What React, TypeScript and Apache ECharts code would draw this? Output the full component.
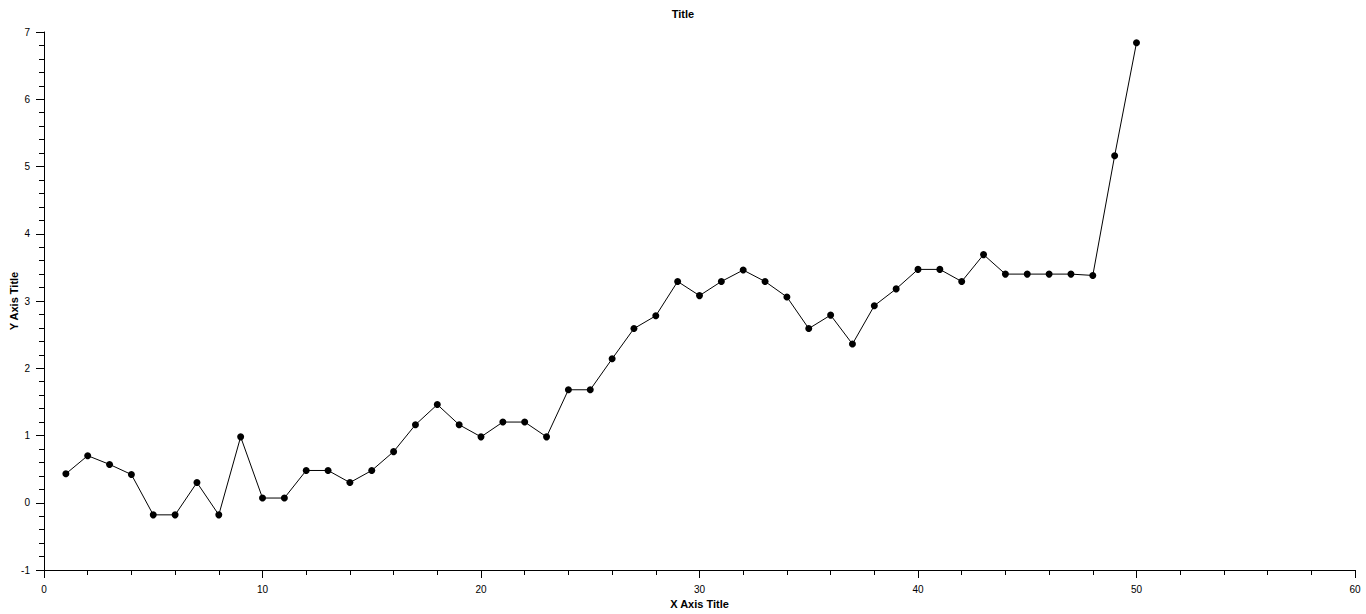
import React, { useEffect, useRef } from "react";
import * as echarts from "echarts";

const xValues = [
  1, 2, 3, 4, 5, 6, 7, 8, 9, 10, 11, 12, 13, 14, 15, 16, 17, 18, 19, 20, 21, 22, 23, 24, 25,
  26, 27, 28, 29, 30, 31, 32, 33, 34, 35, 36, 37, 38, 39, 40, 41, 42, 43, 44, 45, 46, 47, 48, 49, 50,
];
const yValues = [
  0.43, 0.7, 0.57, 0.42, -0.18, -0.18, 0.3, -0.18, 0.98, 0.07, 0.07, 0.48, 0.48, 0.3, 0.48,
  0.76, 1.16, 1.46, 1.16, 0.98, 1.2, 1.2, 0.98, 1.68, 1.68, 2.14, 2.59, 2.78, 3.29, 3.08, 3.29,
  3.46, 3.29, 3.06, 2.59, 2.79, 2.36, 2.93, 3.18, 3.47, 3.47, 3.29, 3.69, 3.4, 3.4, 3.4, 3.4,
  3.38, 5.16, 6.84,
];
const titleText = "Title";
const xAxisName = "X Axis Title";
const yAxisName = "Y Axis Title";

const FONT = "'Liberation Sans', Arial, sans-serif";

export default function App() {
  const ref = useRef<HTMLDivElement>(null);
  useEffect(() => {
    document.body.style.margin = "0";
    if (!ref.current) return;
    const chart = echarts.init(ref.current, undefined, { renderer: "svg" });
    const axisCommon = {
      type: "value" as const,
      axisLine: { show: true, onZero: false, lineStyle: { color: "#000", width: 1 } },
      axisTick: { show: true, inside: false, length: 8, lineStyle: { color: "#000" } },
      minorTick: { show: true, splitNumber: 5, length: 5, lineStyle: { color: "#000" } },
      splitLine: { show: false },
      minorSplitLine: { show: false },
      axisLabel: { color: "#000", fontSize: 10, fontFamily: FONT },
      nameTextStyle: { color: "#000", fontSize: 11, fontWeight: "bold" as const, fontFamily: FONT },
      nameLocation: "middle" as const,
      nameMoveOverlap: false,
    };
    chart.setOption({
      animation: false,
      backgroundColor: "#fff",
      title: {
        text: titleText,
        left: "center",
        top: 3,
        textStyle: { color: "#000", fontSize: 11, fontWeight: "bold", fontFamily: FONT },
      },
      grid: { left: 44, right: 11, top: 32, bottom: 44, containLabel: false, outerBoundsMode: "none" },
      xAxis: {
        ...axisCommon,
        min: 0,
        max: 60,
        interval: 10,
        name: xAxisName,
        nameGap: 28,
        axisLabel: { ...axisCommon.axisLabel, margin: 14 },
      },
      yAxis: {
        ...axisCommon,
        min: -1,
        max: 7,
        interval: 1,
        name: yAxisName,
        nameGap: 25,
        axisLabel: { ...axisCommon.axisLabel, margin: 14 },
      },
      series: [
        {
          type: "line",
          data: xValues.map((x, i) => [x, yValues[i]]),
          symbol: "circle",
          symbolSize: 7,
          showSymbol: true,
          itemStyle: { color: "#000" },
          lineStyle: { color: "#000", width: 1 },
        },
      ],
    });
    return () => chart.dispose();
  }, []);
  return <div ref={ref} style={{ width: 1366, height: 614 }} />;
}
